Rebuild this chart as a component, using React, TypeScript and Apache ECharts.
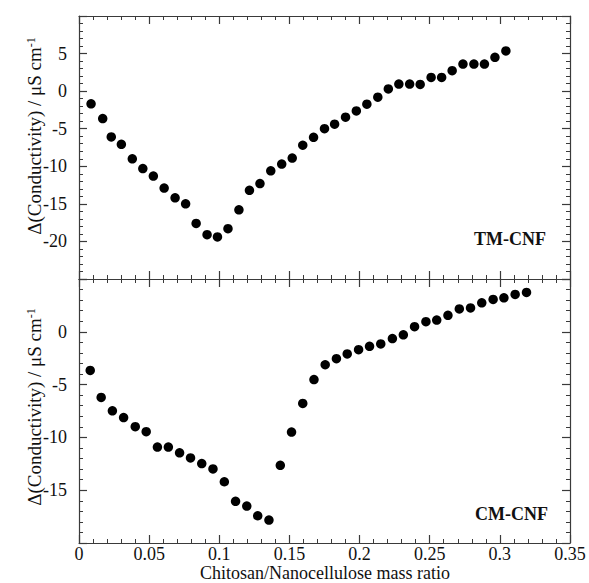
import React, { useEffect, useRef } from "react";
import * as echarts from "echarts";

// TM-CNF (upper panel)
const xTM = [0.0086, 0.0169, 0.023, 0.0302, 0.038, 0.0455, 0.053, 0.0607, 0.0685, 0.076,
  0.0835, 0.0913, 0.0987, 0.1062, 0.114, 0.1215, 0.129, 0.1367, 0.1445, 0.152,
  0.1595, 0.1672, 0.175, 0.1822, 0.19, 0.1977, 0.2052, 0.213, 0.2205, 0.228,
  0.2357, 0.2432, 0.251, 0.2585, 0.266, 0.2737, 0.2815, 0.289, 0.2965, 0.3043];
const yTM = [-1.68, -3.65, -6.1, -7.08, -9.0, -10.3, -11.3, -12.9, -14.2, -15.0,
  -17.6, -19.1, -19.4, -18.3, -15.8, -13.2, -12.3, -10.6, -9.7, -8.9,
  -7.2, -6.15, -5.0, -4.4, -3.47, -2.63, -1.73, -0.8, 0.3, 0.94,
  0.94, 0.9, 1.83, 1.83, 2.72, 3.6, 3.6, 3.6, 4.5, 5.35];

// CM-CNF (lower panel)
const xCM = [0.008, 0.0158, 0.0238, 0.0318, 0.0401, 0.0479, 0.0559, 0.0637, 0.0717, 0.0795,
  0.0875, 0.0955, 0.1036, 0.1116, 0.1196, 0.1274, 0.1354, 0.1435, 0.1515, 0.1595,
  0.1675, 0.1755, 0.1835, 0.1912, 0.1993, 0.2071, 0.2151, 0.2234, 0.2312, 0.2392,
  0.2473, 0.255, 0.263, 0.2711, 0.2791, 0.2871, 0.2952, 0.3029, 0.3109, 0.319];
const yCM = [-3.66, -6.21, -7.48, -8.12, -8.98, -9.46, -10.92, -10.92, -11.46, -11.94,
  -12.48, -12.99, -14.2, -16.05, -16.5, -17.42, -17.83, -12.64, -9.49, -6.78,
  -4.52, -3.12, -2.55, -2.1, -1.69, -1.37, -1.15, -0.64, -0.29, 0.48,
  0.96, 1.11, 1.56, 2.17, 2.26, 2.74, 3.06, 3.22, 3.54, 3.73];

const xRange = [0, 0.35];
const xStep = 0.05;
const yRangeTM = [-25, 10];
const yRangeCM = [-20, 5];
const yStep = 5;

const panelLabels = ["TM-CNF", "CM-CNF"];
const xTitle = "Chitosan/Nanocellulose mass ratio";
const yTitle = "Δ(Conductivity) / μS cm{sup|-1}";

const FONT = "Liberation Serif";
const AXIS = "#3a3a3a";

function makeAxis(gridIndex: number, position: string, range: number[], interval: number, labels: boolean, extra: any = {}) {
  return {
    type: "value",
    gridIndex,
    position,
    min: range[0],
    max: range[1],
    interval,
    axisLine: { show: true, onZero: false, lineStyle: { color: AXIS, width: 1.2 } },
    axisTick: { show: true, inside: true, length: 8, lineStyle: { color: AXIS, width: 1.2 } },
    minorTick: { show: true, splitNumber: 5, length: 4, lineStyle: { color: AXIS, width: 1 } },
    splitLine: { show: false },
    minorSplitLine: { show: false },
    axisLabel: {
      show: labels,
      fontFamily: FONT,
      fontSize: 18,
      color: "#111",
      ...extra,
    },
  };
}

export default function App() {
  const ref = useRef<HTMLDivElement>(null);
  useEffect(() => {
    if (!ref.current) return;
    const chart = echarts.init(ref.current, undefined, { renderer: "svg" });
    const grids = [
      { left: 79, right: 19, top: 16, height: 263 },
      { left: 79, right: 19, top: 279, height: 264 },
    ];
    const option: any = {
      animation: false,
      backgroundColor: "#fff",
      grid: grids,
      xAxis: [
        makeAxis(0, "bottom", xRange, xStep, false),
        makeAxis(0, "top", xRange, xStep, false),
        makeAxis(1, "bottom", xRange, xStep, true, { margin: 2 }),
        makeAxis(1, "top", xRange, xStep, false),
      ],
      yAxis: [
        makeAxis(0, "left", yRangeTM, yStep, true, { margin: 12, showMinLabel: false, showMaxLabel: false }),
        makeAxis(0, "right", yRangeTM, yStep, false),
        makeAxis(1, "left", yRangeCM, yStep, true, { margin: 12, showMinLabel: false, showMaxLabel: false }),
        makeAxis(1, "right", yRangeCM, yStep, false),
      ],
      series: [
        {
          type: "scatter",
          name: panelLabels[0],
          xAxisIndex: 0,
          yAxisIndex: 0,
          symbol: "circle",
          symbolSize: 9.5,
          itemStyle: { color: "#000", opacity: 1 },
          data: xTM.map((x, i) => [x, yTM[i]]),
        },
        {
          type: "scatter",
          name: panelLabels[1],
          xAxisIndex: 2,
          yAxisIndex: 2,
          symbol: "circle",
          symbolSize: 9.5,
          itemStyle: { color: "#000", opacity: 1 },
          data: xCM.map((x, i) => [x, yCM[i]]),
        },
      ],
      graphic: [
        {
          type: "text",
          x: 546, y: 239,
          style: { text: panelLabels[0], fontFamily: FONT, fontWeight: "bold", fontSize: 18, fill: "#111", align: "right", verticalAlign: "middle" },
        },
        {
          type: "text",
          x: 548, y: 514,
          style: { text: panelLabels[1], fontFamily: FONT, fontWeight: "bold", fontSize: 18, fill: "#111", align: "right", verticalAlign: "middle" },
        },
        {
          type: "text",
          x: 325, y: 573,
          style: { text: xTitle, fontFamily: FONT, fontSize: 18, fill: "#111", align: "center", verticalAlign: "middle" },
        },
        ...[136, 407].map((cy) => ({
          type: "text",
          x: 34, y: cy,
          rotation: Math.PI / 2,
          style: {
            text: yTitle,
            fontFamily: FONT,
            fontSize: 19,
            fill: "#111",
            align: "center",
            verticalAlign: "middle",
            rich: {
              sup: { fontFamily: FONT, fontSize: 12, verticalAlign: "top", fill: "#111" },
            },
          },
        })),
      ],
    };
    chart.setOption(option);
    return () => chart.dispose();
  }, []);
  return <div ref={ref} style={{ position: "absolute", left: 0, top: 0, width: 589, height: 583 }} />;
}
